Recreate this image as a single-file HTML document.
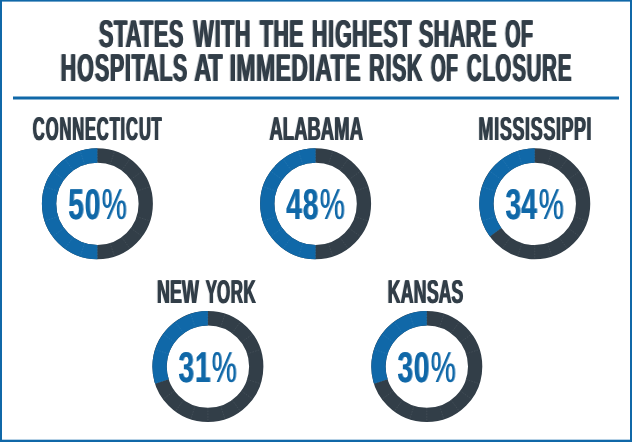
<!DOCTYPE html>
<html><head><meta charset="utf-8"><title>States with the highest share of hospitals at immediate risk of closure</title>
<style>
html,body{margin:0;padding:0;background:#fff;}
body{width:632px;height:442px;overflow:hidden;}
svg{display:block;}
text{font-family:"Liberation Sans",sans-serif;font-weight:bold;}
.t{fill:#323e48;}
.p{fill:#1068a8;}
.pc{font-weight:normal;}
</style></head><body>
<svg width="632" height="442" viewBox="0 0 632 442" role="img">
<desc>Connecticut 50%, Alabama 48%, Mississippi 34%, New York 31%, Kansas 30%</desc>
<defs>
<filter id="bt" filterUnits="userSpaceOnUse" x="0" y="0" width="632" height="442" color-interpolation-filters="sRGB"><feOffset in="SourceGraphic" dx="1" dy="0" result="o"/><feComponentTransfer in="o" result="oa"><feFuncA type="linear" slope="1.00"/></feComponentTransfer><feOffset in="SourceGraphic" dx="-1" dy="0" result="p"/><feComponentTransfer in="p" result="pa"><feFuncA type="linear" slope="0.30"/></feComponentTransfer><feMerge><feMergeNode in="pa"/><feMergeNode in="oa"/><feMergeNode in="SourceGraphic"/></feMerge></filter>
<filter id="bl" filterUnits="userSpaceOnUse" x="0" y="0" width="632" height="442" color-interpolation-filters="sRGB"><feOffset in="SourceGraphic" dx="1" dy="0" result="o"/><feComponentTransfer in="o" result="oa"><feFuncA type="linear" slope="1.00"/></feComponentTransfer><feOffset in="SourceGraphic" dx="-1" dy="0" result="p"/><feComponentTransfer in="p" result="pa"><feFuncA type="linear" slope="0.10"/></feComponentTransfer><feMerge><feMergeNode in="pa"/><feMergeNode in="oa"/><feMergeNode in="SourceGraphic"/></feMerge></filter>
<filter id="bp" filterUnits="userSpaceOnUse" x="0" y="0" width="632" height="442" color-interpolation-filters="sRGB"><feOffset in="SourceGraphic" dx="1" dy="0" result="o"/><feComponentTransfer in="o" result="oa"><feFuncA type="linear" slope="0.60"/></feComponentTransfer><feMerge><feMergeNode in="oa"/><feMergeNode in="SourceGraphic"/></feMerge></filter>
</defs>
<rect x="0" y="0" width="632" height="442" fill="#fff"/>
<rect x="0" y="0" width="2" height="442" fill="#1068a8"/>
<rect x="630" y="0" width="2" height="442" fill="#1068a8"/>
<rect x="0" y="0" width="632" height="1.6" fill="#1068a8"/>
<rect x="0" y="439.7" width="632" height="2.3" fill="#1068a8"/>
<rect x="13" y="96.5" width="606" height="3" fill="#1068a8"/>
<g filter="url(#bt)">
<text class="t" transform="translate(0,46.6) matrix(0.5638 0 0.0005 1 0 0)" x="174.66 201.26 222.27 247.51 272.25 299.03" y="0" font-size="38.74">STATES</text>
<text class="t" transform="translate(0,46.6) matrix(0.5580 0 0.0005 1 0 0)" x="345.99 384.00 395.59 420.12" y="0" font-size="38.74">WITH</text>
<text class="t" transform="translate(0,46.6) matrix(0.5552 0 0.0005 1 0 0)" x="467.32 491.65 520.16" y="0" font-size="38.74">THE</text>
<text class="t" transform="translate(0,46.6) matrix(0.5540 0 0.0005 1 0 0)" x="562.23 591.53 604.06 634.93 664.23 691.35 718.29" y="0" font-size="38.74">HIGHEST</text>
<text class="t" transform="translate(0,46.6) matrix(0.5616 0 0.0005 1 0 0)" x="745.19 771.66 800.08 828.46 857.85" y="0" font-size="38.74">SHARE</text>
<text class="t" transform="translate(0,46.6) matrix(0.5112 0 0.0005 1 0 0)" x="987.21 1018.00" y="0" font-size="38.74">OF</text>
<text class="t" transform="translate(0,81.0) matrix(0.5553 0 0.0005 1 0 0)" x="108.70 138.38 170.32 197.18 224.02 236.16 257.46 286.23 310.63" y="0" font-size="38.74">HOSPITALS</text>
<text class="t" transform="translate(0,81.0) matrix(0.5982 0 0.0005 1 0 0)" x="324.17 347.86" y="0" font-size="38.74">AT</text>
<text class="t" transform="translate(0,81.0) matrix(0.5917 0 0.0005 1 0 0)" x="387.28 398.95 432.13 465.31 491.85 521.16 532.50 558.09 582.87" y="0" font-size="38.74">IMMEDIATE</text>
<text class="t" transform="translate(0,81.0) matrix(0.5501 0 0.0005 1 0 0)" x="670.56 700.22 712.26 738.98" y="0" font-size="38.74">RISK</text>
<text class="t" transform="translate(0,81.0) matrix(0.4948 0 0.0005 1 0 0)" x="870.10 900.98" y="0" font-size="38.74">OF</text>
<text class="t" transform="translate(0,81.0) matrix(0.5273 0 0.0005 1 0 0)" x="884.68 914.50 938.97 971.01 997.95 1027.37 1057.29" y="0" font-size="38.74">CLOSURE</text>
</g>
<g filter="url(#bl)">
<text class="t" transform="translate(0,139.65) matrix(0.5009 0 0.0005 1 0 0)" x="64.33 90.44 117.95 143.29 168.63 192.28 217.92 239.61 250.68 276.30 301.59" y="0" font-size="33.07">CONNECTICUT</text>
<text class="t" transform="translate(0,139.65) matrix(0.5568 0 0.0005 1 0 0)" x="483.05 507.15 527.35 551.45 575.26 599.36 627.19" y="0" font-size="33.07">ALABAMA</text>
<text class="t" transform="translate(0,139.65) matrix(0.5415 0 0.0005 1 0 0)" x="882.91 911.73 922.32 945.58 968.71 979.31 1002.58 1025.70 1036.16 1059.28 1082.39" y="0" font-size="33.07">MISSISSIPPI</text>
<text class="t" transform="translate(0,302.7) matrix(0.5410 0 0.0005 1 0 0)" x="289.27 313.19 335.71" y="0" font-size="33.07">NEW</text>
<text class="t" transform="translate(0,302.7) matrix(0.5118 0 0.0005 1 0 0)" x="401.12 422.88 449.73 474.82" y="0" font-size="33.07">YORK</text>
<text class="t" transform="translate(0,302.7) matrix(0.5329 0 0.0005 1 0 0)" x="726.66 751.07 775.34 800.12 822.21 846.41" y="0" font-size="33.07">KANSAS</text>
</g>
<circle cx="97.4" cy="203.85" r="48.35" fill="none" stroke="#323e48" stroke-width="14.3"/>
<path d="M97.40 155.50 A48.35 48.35 0 0 0 97.40 252.20" fill="none" stroke="#1068a8" stroke-width="14.3"/>
<path d="M97.40 162.65L97.40 148.35M110.13 164.67L114.55 151.07M121.62 170.52L130.02 158.95M130.73 179.63L142.30 171.23M136.58 191.12L150.18 186.70M136.58 216.58L150.18 221.00M130.73 228.07L142.30 236.47M121.62 237.18L130.02 248.75M110.13 243.03L114.55 256.63M97.40 245.05L97.40 259.35M84.67 243.03L80.25 256.63M73.18 237.18L64.78 248.75M64.07 228.07L52.50 236.47M58.22 216.58L44.62 221.00M58.22 191.12L44.62 186.70M64.07 179.63L52.50 171.23M73.18 170.52L64.78 158.95M84.67 164.67L80.25 151.07" stroke="#fff" stroke-opacity="0.11" stroke-width="0.7" stroke-dasharray="1.6 1.2" fill="none"/>
<circle cx="315.6" cy="203.85" r="48.35" fill="none" stroke="#323e48" stroke-width="14.3"/>
<path d="M315.60 155.50 A48.35 48.35 0 0 0 315.60 252.20" fill="none" stroke="#1068a8" stroke-width="14.3"/>
<path d="M315.60 162.65L315.60 148.35M328.33 164.67L332.75 151.07M339.82 170.52L348.22 158.95M348.93 179.63L360.50 171.23M354.78 191.12L368.38 186.70M354.78 216.58L368.38 221.00M348.93 228.07L360.50 236.47M339.82 237.18L348.22 248.75M328.33 243.03L332.75 256.63M315.60 245.05L315.60 259.35M302.87 243.03L298.45 256.63M291.38 237.18L282.98 248.75M282.27 228.07L270.70 236.47M276.42 216.58L262.82 221.00M276.42 191.12L262.82 186.70M282.27 179.63L270.70 171.23M291.38 170.52L282.98 158.95M302.87 164.67L298.45 151.07" stroke="#fff" stroke-opacity="0.11" stroke-width="0.7" stroke-dasharray="1.6 1.2" fill="none"/>
<circle cx="534.75" cy="203.85" r="48.35" fill="none" stroke="#323e48" stroke-width="14.3"/>
<path d="M534.75 155.50 A48.35 48.35 0 0 0 495.63 232.27" fill="none" stroke="#1068a8" stroke-width="14.3"/>
<path d="M534.75 162.65L534.75 148.35M547.48 164.67L551.90 151.07M558.97 170.52L567.37 158.95M568.08 179.63L579.65 171.23M573.93 191.12L587.53 186.70M573.93 216.58L587.53 221.00M568.08 228.07L579.65 236.47M558.97 237.18L567.37 248.75M547.48 243.03L551.90 256.63M534.75 245.05L534.75 259.35M522.02 243.03L517.60 256.63M510.53 237.18L502.13 248.75M501.42 228.07L489.85 236.47M495.57 216.58L481.97 221.00M495.57 191.12L481.97 186.70M501.42 179.63L489.85 171.23M510.53 170.52L502.13 158.95M522.02 164.67L517.60 151.07" stroke="#fff" stroke-opacity="0.11" stroke-width="0.7" stroke-dasharray="1.6 1.2" fill="none"/>
<circle cx="207.9" cy="366.6" r="48.35" fill="none" stroke="#323e48" stroke-width="14.3"/>
<path d="M207.90 318.25 A48.35 48.35 0 0 0 161.92 381.54" fill="none" stroke="#1068a8" stroke-width="14.3"/>
<path d="M207.90 325.40L207.90 311.10M220.63 327.42L225.05 313.82M232.12 333.27L240.52 321.70M241.23 342.38L252.80 333.98M247.08 353.87L260.68 349.45M247.08 379.33L260.68 383.75M241.23 390.82L252.80 399.22M232.12 399.93L240.52 411.50M220.63 405.78L225.05 419.38M207.90 407.80L207.90 422.10M195.17 405.78L190.75 419.38M183.68 399.93L175.28 411.50M174.57 390.82L163.00 399.22M168.72 379.33L155.12 383.75M168.72 353.87L155.12 349.45M174.57 342.38L163.00 333.98M183.68 333.27L175.28 321.70M195.17 327.42L190.75 313.82" stroke="#fff" stroke-opacity="0.11" stroke-width="0.7" stroke-dasharray="1.6 1.2" fill="none"/>
<circle cx="426.8" cy="366.6" r="48.35" fill="none" stroke="#323e48" stroke-width="14.3"/>
<path d="M426.80 318.25 A48.35 48.35 0 0 0 380.82 381.54" fill="none" stroke="#1068a8" stroke-width="14.3"/>
<path d="M426.80 325.40L426.80 311.10M439.53 327.42L443.95 313.82M451.02 333.27L459.42 321.70M460.13 342.38L471.70 333.98M465.98 353.87L479.58 349.45M465.98 379.33L479.58 383.75M460.13 390.82L471.70 399.22M451.02 399.93L459.42 411.50M439.53 405.78L443.95 419.38M426.80 407.80L426.80 422.10M414.07 405.78L409.65 419.38M402.58 399.93L394.18 411.50M393.47 390.82L381.90 399.22M387.62 379.33L374.02 383.75M387.62 353.87L374.02 349.45M393.47 342.38L381.90 333.98M402.58 333.27L394.18 321.70M414.07 327.42L409.65 313.82" stroke="#fff" stroke-opacity="0.11" stroke-width="0.7" stroke-dasharray="1.6 1.2" fill="none"/>
<g filter="url(#bp)">
<text class="p" transform="translate(0,218.7) matrix(0.6550 0 0.0005 1 0 0)" x="103.83 129.04 154.96" y="0" font-size="43.10">50<tspan class="pc">%</tspan></text>
<text class="p" transform="translate(0,218.7) matrix(0.6550 0 0.0005 1 0 0)" x="436.54 461.81 487.79" y="0" font-size="43.10">48<tspan class="pc">%</tspan></text>
<text class="p" transform="translate(0,218.7) matrix(0.6550 0 0.0005 1 0 0)" x="771.54 795.25 822.06" y="0" font-size="43.10">34<tspan class="pc">%</tspan></text>
<text class="p" transform="translate(0,381.7) matrix(0.6550 0 0.0005 1 0 0)" x="272.19 297.33 322.90" y="0" font-size="43.10">31<tspan class="pc">%</tspan></text>
<text class="p" transform="translate(0,381.7) matrix(0.6550 0 0.0005 1 0 0)" x="606.54 631.33 657.25" y="0" font-size="43.10">30<tspan class="pc">%</tspan></text>
</g>
</svg></body></html>
